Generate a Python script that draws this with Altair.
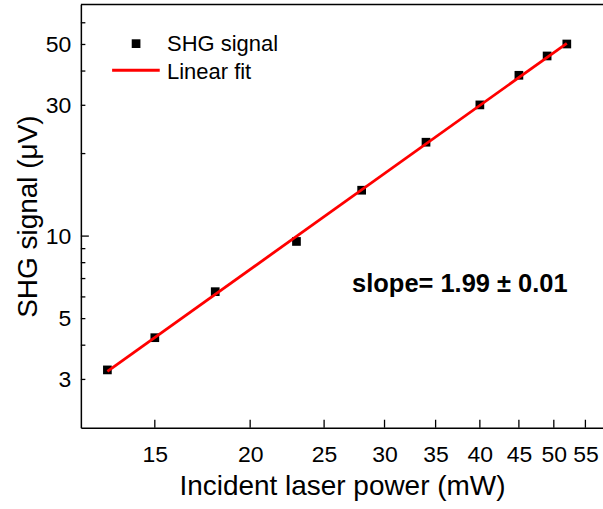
import altair as alt
import pandas as pd

# ---- data ----
power = [13, 15, 18, 23, 28, 34, 40, 45, 49, 52]
signal = [3.25, 4.26, 6.27, 9.56, 14.7, 22.0, 30.1, 38.6, 45.4, 50.2]
fit_power = [13, 52]
fit_signal = [3.21, 50.5]

x_tick_values = [15, 20, 25, 30, 35, 40, 45, 50, 55]
y_label_values = [3, 5, 10, 30, 50]
y_major_ticks = [10]
y_minor_ticks = [3, 4, 5, 6, 7, 8, 9, 20, 30, 40, 50, 60]

legend_labels = ["SHG signal", "Linear fit"]
annotation = "slope= 1.99 \u00b1 0.01"

# ---- layout ----
W, H = 523, 424
LEFT, TOP = 81, 4
FONT = "Liberation Sans, Arial, sans-serif"

xs = alt.Scale(type="log", domain=[12, 58], nice=False)
ys = alt.Scale(type="log", domain=[2, 70], nice=False)

xaxis = alt.Axis(
    values=x_tick_values, format="d", ticks=False, tickSize=0, grid=False,
    labelPadding=15.5, labelFont=FONT, labelFontSize=23, labelColor="black",
    labelFlush=False, labelOverlap=False,
    domainColor="black", domainWidth=1.5,
    title="Incident laser power (mW)", titleFont=FONT, titleFontSize=28,
    titleFontWeight="normal", titleColor="black",
    titleBaseline="alphabetic", titleY=67,
)
yaxis = alt.Axis(
    values=y_label_values, format="d", ticks=False, tickSize=0, grid=False,
    labelPadding=10, labelFont=FONT, labelFontSize=23, labelColor="black",
    labelFlush=False, labelOverlap=False,
    domainColor="black", domainWidth=1.5,
    title="SHG signal (\u03bcV)", titleFont=FONT, titleFontSize=28,
    titleFontWeight="normal", titleColor="black",
    titleAngle=270, titleAlign="center", titleBaseline="alphabetic",
    titleX=-44, titleY=H / 2,
)

df_pts = pd.DataFrame({"power": power, "signal": signal})
df_fit = pd.DataFrame({"power": fit_power, "signal": fit_signal})
df_xt = pd.DataFrame({"power": x_tick_values})
df_ymaj = pd.DataFrame({"signal": y_major_ticks})
df_ymin = pd.DataFrame({"signal": y_minor_ticks})
df_one = pd.DataFrame({"k": [0]})

X = alt.X("power:Q", scale=xs, axis=xaxis)
Y = alt.Y("signal:Q", scale=ys, axis=yaxis)

points = alt.Chart(df_pts).mark_square(size=76, color="black", opacity=1).encode(x=X, y=Y)
fit = alt.Chart(df_fit).mark_line(color="#ff0000", strokeWidth=2.8).encode(x=X, y=Y)

xt = alt.Chart(df_xt).mark_rule(color="black", strokeWidth=1.3).encode(
    x=X, y=alt.value(H), y2=alt.value(H - 8))
ymaj = alt.Chart(df_ymaj).mark_rule(color="black", strokeWidth=1.3).encode(
    y=Y, x=alt.value(0), x2=alt.value(8))
ymin = alt.Chart(df_ymin).mark_rule(color="black", strokeWidth=1.3).encode(
    y=Y, x=alt.value(0), x2=alt.value(4.5))

top_border = alt.Chart(df_one).mark_rule(color="black", strokeWidth=1.5).encode(
    x=alt.value(0), x2=alt.value(W), y=alt.value(0))

leg_sq = alt.Chart(df_one).mark_square(size=76, color="black", opacity=1).encode(
    x=alt.value(55.3), y=alt.value(39.3))
leg_line = alt.Chart(df_one).mark_rule(color="#ff0000", strokeWidth=3).encode(
    x=alt.value(31.3), x2=alt.value(79), y=alt.value(66))
leg_t1 = alt.Chart(pd.DataFrame({"t": [legend_labels[0]]})).mark_text(
    align="left", baseline="alphabetic", font=FONT, fontSize=22, color="black").encode(
    text="t:N", x=alt.value(86.3), y=alt.value(46.7))
leg_t2 = alt.Chart(pd.DataFrame({"t": [legend_labels[1]]})).mark_text(
    align="left", baseline="alphabetic", font=FONT, fontSize=22, color="black").encode(
    text="t:N", x=alt.value(86.3), y=alt.value(74.3))

note = alt.Chart(pd.DataFrame({"t": [annotation]})).mark_text(
    align="left", baseline="alphabetic", font=FONT, fontSize=25.5, fontWeight="bold",
    color="black").encode(text="t:N", x=alt.value(271.7), y=alt.value(288))

chart = alt.layer(
    points, fit, xt, ymaj, ymin, top_border, leg_sq, leg_line, leg_t1, leg_t2, note
).properties(
    width=W, height=H,
    autosize=alt.AutoSizeParams(type="none"),
    padding={"left": LEFT, "top": TOP, "right": 0, "bottom": 509 - TOP - H},
    background="white",
).configure_view(stroke=None)

chart.save("out.html", embed_options={"renderer": "svg", "actions": False})
